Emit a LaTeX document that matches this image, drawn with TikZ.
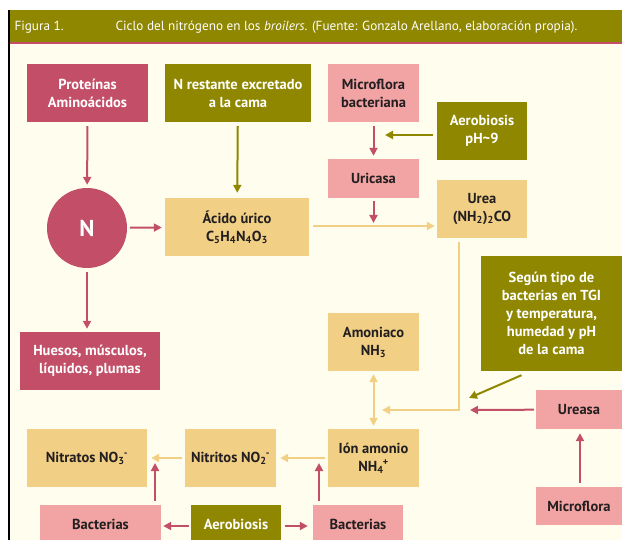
\documentclass[tikz,border=0pt]{standalone}
\usepackage{fontspec}
\setmainfont{PT Sans}
\usetikzlibrary{arrows.meta}
\definecolor{frambuesa}{HTML}{C24F67}
\definecolor{oliva}{HTML}{8F8700}
\definecolor{rosa}{HTML}{F2A3A3}
\definecolor{arena}{HTML}{F1D085}
\definecolor{crema}{HTML}{FFFEEE}
\definecolor{tinta}{HTML}{231F20}
\newcommand{\subsup}[2]{\textsubscript{#1}\kern-0.05em\textsuperscript{#2}}

\begin{document}
\begin{tikzpicture}
			[
				x                  = 1pt,
				y                  = -1pt,
				font               = \fontsize{14.5}{18}\selectfont\bfseries,
				caja/.style        = {rectangle, align=center, inner sep=0pt,
				                      minimum width=91pt, minimum height=58pt},
				oscura/.style      = {caja, text=white},
				clara/.style       = {caja, text=tinta},
				flecha/.style      = {line width=2pt, -{Triangle[length=8pt,width=8pt]}}
			]
			\useasboundingbox (0,0) rectangle (622,540);
			\clip (0,0) rectangle (622,540);
			% fondo y cabecera
			\fill[white] (0,0) rectangle (622,540);
			\fill[crema] (10,44) rectangle (622,540);
			\fill[oliva] (10,10) rectangle (622,42);
			\fill[frambuesa] (10,42) rectangle (622,44.5);
			\fill[black] (7.5,10) rectangle (10,540);
			\node (figura) [anchor=base west, text=white, font=\fontsize{13.2}{15}\selectfont]
				at (11,31) {Figura 1.};
			\node (titulo) [anchor=base west, text=white, font=\fontsize{13.2}{15}\selectfont]
				at (112,31) {Ciclo del nitrógeno en los \textit{broilers}. (Fuente: Gonzalo Arellano, elaboración propia).};
			% cajas
			\node (prot)   [oscura, fill=frambuesa, minimum width=121pt] at (87.5,93)  {Proteínas\\Aminoácidos};
			\node (nrest)  [oscura, fill=oliva, minimum width=146pt]     at (238,93)   {N restante excretado\\a la cama};
			\node (microb) [clara, fill=rosa]                            at (373.5,93) {Microflora\\bacteriana};
			\node (aerob)  [oscura, fill=oliva, minimum width=90pt]      at (482,131)  {Aerobiosis\\pH\textasciitilde9};
			\node (uric)   [clara, fill=rosa, minimum height=39pt]       at (373.5,178.5) {Uricasa};
			\node (N)      [circle, fill=frambuesa, text=white, minimum size=80pt, inner sep=0pt,
			                font=\fontsize{23}{23}\selectfont\bfseries] at (87,228) {N};
			\node (acido)  [clara, fill=arena, minimum width=144pt]      at (237,227)  {Ácido úrico\\C\textsubscript{5}H\textsubscript{4}N\textsubscript{4}O\textsubscript{3}};
			\node (urea)   [clara, fill=arena, minimum width=90pt]       at (482,209)  {Urea\\(NH\textsubscript{2})\textsubscript{2}CO};
			\node (huesos) [oscura, fill=frambuesa, minimum width=140pt] at (90,361)   {Huesos, músculos,\\líquidos, plumas};
			\node (segun)  [oscura, fill=oliva, minimum width=141pt, minimum height=115pt]
				at (551.5,313.5) {Según tipo de\\bacterias en TGI\\y temperatura,\\humedad y pH\\de la cama};
			\node (amon)   [clara, fill=arena]                           at (373.5,342) {Amoniaco\\NH\textsubscript{3}};
			\node (ureasa) [clara, fill=rosa, minimum width=86pt, minimum height=39pt] at (579,409.5) {Ureasa};
			\node (ion)    [clara, fill=arena]                           at (373.5,458) {Ión amonio\\NH\subsup{4}{+}};
			\node (nitri)  [clara, fill=arena]                           at (230.5,458) {Nitritos NO\subsup{2}{-}};
			\node (nitra)  [clara, fill=arena, minimum width=120pt]      at (87,458)   {Nitratos NO\subsup{3}{-}};
			\node (bactL)  [clara, fill=rosa, minimum width=121pt, minimum height=39pt] at (100.5,524.5) {Bacterias};
			\node (aerob2) [oscura, fill=oliva, minimum width=90pt, minimum height=39pt] at (236,524.5) {Aerobiosis};
			\node (bactR)  [clara, fill=rosa, minimum width=90pt, minimum height=39pt]  at (358,524.5) {Bacterias};
			\node (micro)  [clara, fill=rosa, minimum width=86pt, minimum height=38pt]  at (579,506) {Microflora};
			% puntos libres
			\coordinate (uricpunto) at (373.5,223);
			\coordinate (aerobpunto) at (385,135);
			\coordinate (codo) at (459,410);
			\coordinate (llegada) at (382,410);
			\coordinate (segunpunto) at (469,398);
			\coordinate (ureasapunto) at (470,410);
			\coordinate (nitrapunto) at (155,463);
			\coordinate (ionpunto) at (319,463);
			% conectores
			\draw[flecha, frambuesa, shorten <=4pt, shorten >=3pt] (prot) -- (N);
			\draw[flecha, frambuesa, shorten <=4pt, shorten >=3pt] (N) -- (N |- huesos.north);
			\draw[flecha, oliva, shorten <=4pt, shorten >=5pt] (nrest) -- (acido);
			\draw[flecha, frambuesa, shorten <=3pt, shorten >=3pt] (N) -- (acido);
			\draw[flecha, frambuesa, shorten <=4pt, shorten >=3pt] (microb) -- (uric);
			\draw[flecha, oliva, shorten <=4pt] (aerob.west |- aerobpunto) -- (aerobpunto);
			\draw[flecha, frambuesa, shorten <=3pt] (uric) -- (uricpunto);
			\draw[flecha, arena, shorten <=4pt, shorten >=2pt] ([yshift=1pt]acido.east) -- ([yshift=1pt]acido.east -| urea.west);
			\draw[line width=2pt, arena, -{Triangle[length=8pt,width=8pt]}]
				([yshift=-4pt]urea.south -| codo) -- (codo) -- (llegada);
			\draw[line width=2pt, arena, {Triangle[length=8pt,width=8pt]}-{Triangle[length=8pt,width=8pt]},
				shorten <=3pt, shorten >=3pt] (amon) -- (ion);
			\draw[flecha, oliva] ([xshift=-30pt,yshift=-4pt]segun.south) -- (segunpunto);
			\draw[flecha, frambuesa, shorten <=2pt] (ureasa) -- (ureasapunto);
			\draw[flecha, frambuesa, shorten <=4pt, shorten >=4pt] ([xshift=1pt]micro.north) -- ([xshift=1pt]ureasa.south);
			\draw[flecha, arena, shorten <=3pt, shorten >=4pt] (ion) -- (nitri);
			\draw[flecha, arena, shorten <=3pt, shorten >=4pt] (nitri) -- (nitra);
			\draw[flecha, frambuesa, shorten <=4pt] (bactL.north -| nitrapunto) -- (nitrapunto);
			\draw[flecha, frambuesa, shorten <=4pt] (bactR.north -| ionpunto) -- (ionpunto);
			\draw[flecha, frambuesa, shorten <=2pt, shorten >=2pt] ([yshift=-1.5pt]aerob2.west) -- ([yshift=-1.5pt]bactL.east);
			\draw[flecha, frambuesa, shorten <=4pt, shorten >=5pt] ([yshift=-1.5pt]aerob2.east) -- ([yshift=-1.5pt]bactR.west);
\end{tikzpicture}
\end{document}
